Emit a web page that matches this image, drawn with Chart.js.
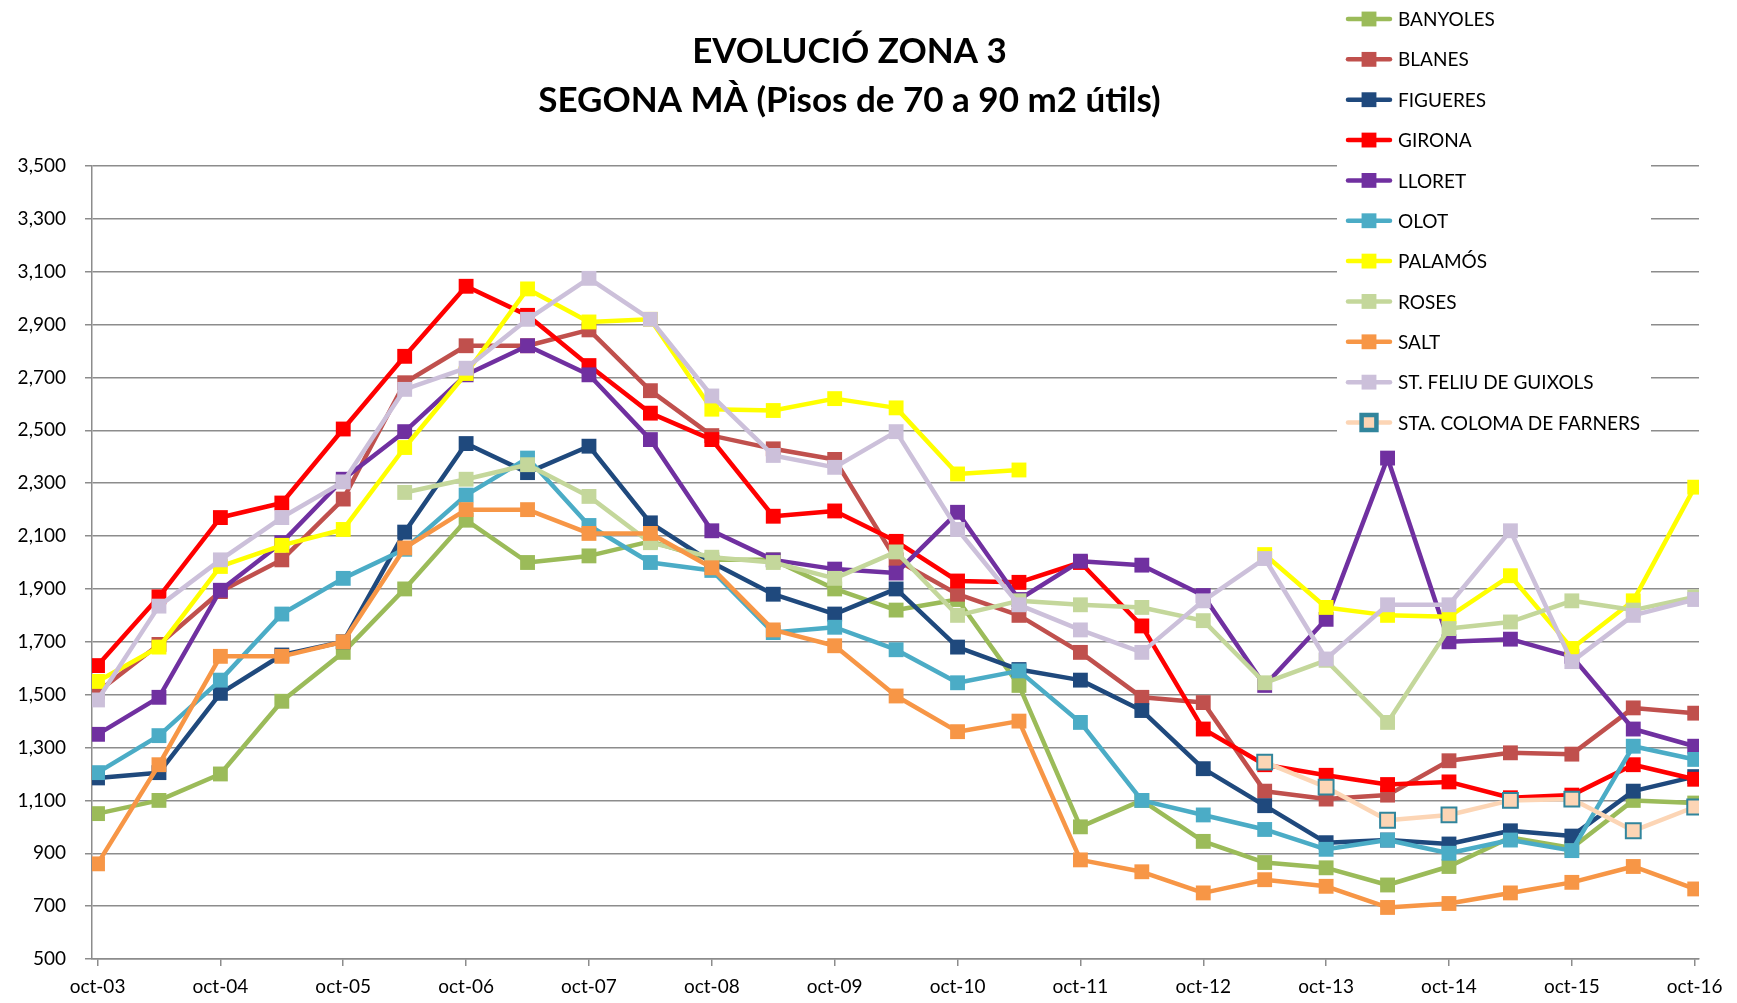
<!DOCTYPE html>
<html>
<head>
<meta charset="utf-8">
<title>Evolució zona 3</title>
<script src="https://cdn.jsdelivr.net/npm/chart.js@4.4.1/dist/chart.umd.min.js"></script>
<style>
  html, body { margin: 0; padding: 0; background: #fff; }
  #wrap { width: 1737px; height: 1003px; position: relative; }
</style>
</head>
<body>
<div id="wrap"><canvas id="chart"></canvas></div>
<script>
// half-year readings, oct-03 ... oct-16 (27 points)
const xTickLabels = ['oct-03', 'oct-04', 'oct-05', 'oct-06', 'oct-07', 'oct-08', 'oct-09',
  'oct-10', 'oct-11', 'oct-12', 'oct-13', 'oct-14', 'oct-15', 'oct-16'];

const cities = ['BANYOLES', 'BLANES', 'FIGUERES', 'GIRONA', 'LLORET', 'OLOT', 'PALAMÓS',
  'ROSES', 'SALT', 'ST. FELIU DE GUIXOLS', 'STA. COLOMA DE FARNERS'];

const banyoles = [1050, 1100, 1200, 1475, 1660, 1900, 2160, 2000, 2025, 2080, 2010, 2010, 1900, 1820,
  1860, 1535, 1000, 1100, 945, 865, 845, 780, 850, 960, 920, 1100, 1090];
const blanes = [1510, 1690, 1890, 2010, 2240, 2680, 2820, 2820, 2880, 2650, 2480, 2430, 2390, 2010,
  1880, 1800, 1660, 1490, 1470, 1135, 1105, 1120, 1250, 1280, 1275, 1450, 1430];
const figueres = [1185, 1205, 1505, 1650, 1700, 2115, 2450, 2340, 2440, 2150, 2000, 1880, 1805, 1900,
  1680, 1595, 1555, 1440, 1220, 1080, 940, 950, 935, 985, 965, 1135, 1190];
const girona = [1610, 1870, 2170, 2225, 2505, 2780, 3045, 2935, 2745, 2565, 2465, 2175, 2195, 2080,
  1930, 1925, 2000, 1760, 1370, 1235, 1195, 1160, 1170, 1110, 1120, 1235, 1180];
const lloret = [1350, 1490, 1895, 2075, 2315, 2495, 2710, 2820, 2710, 2465, 2120, 2010, 1975, 1960,
  2190, 1860, 2005, 1990, 1875, 1535, 1785, 2395, 1700, 1710, 1645, 1370, 1305];
const olot = [1205, 1345, 1555, 1805, 1940, 2050, 2255, 2395, 2140, 2000, 1970, 1735, 1755, 1670,
  1545, 1590, 1395, 1100, 1045, 990, 915, 950, 900, 950, 910, 1305, 1255];
const palamos = [1550, 1680, 1985, 2065, 2125, 2435, 2715, 3035, 2910, 2920, 2580, 2575, 2620, 2585,
  2335, 2350, null, null, null, 2030, 1830, 1800, 1795, 1950, 1675, 1855, 2285];
const roses = [null, null, null, null, null, 2265, 2315, 2370, 2250, 2075, 2020, 2000, 1940, 2040,
  1800, 1855, 1840, 1830, 1780, 1545, 1630, 1395, 1750, 1775, 1855, 1820, 1870];
const salt = [860, 1235, 1645, 1645, 1700, 2055, 2200, 2200, 2110, 2110, 1980, 1745, 1685, 1495,
  1360, 1400, 875, 830, 750, 800, 775, 695, 710, 750, 790, 850, 765];
const stFeliu = [1480, 1835, 2010, 2170, 2305, 2655, 2735, 2920, 3075, 2920, 2630, 2405, 2360, 2495,
  2125, 1840, 1745, 1660, 1855, 2015, 1635, 1840, 1840, 2120, 1625, 1800, 1860];
const staColoma = [null, null, null, null, null, null, null, null, null, null, null, null, null, null,
  null, null, null, null, null, 1245, 1150, 1025, 1045, 1100, 1105, 985, 1075];

const seriesValues = [banyoles, blanes, figueres, girona, lloret, olot, palamos, roses, salt, stFeliu, staColoma];

const lineColors = ['#9BBB59', '#C0504D', '#1F497D', '#FF0000', '#7030A0', '#4BACC6', '#FFFF00',
  '#C4D79B', '#F79646', '#CCC0DA', '#FCD5B5'];
const markerBorders = lineColors.slice(0, 10).concat(['#31859C']);

const FONT = "Lato, 'Open Sans', sans-serif";
const GRID = '#8c8c8c';

// legend drawn over the top-right corner of the plot, like the original
const overlayLegend = {
  id: 'overlayLegend',
  afterDraw(chart) {
    const ctx = chart.ctx;
    ctx.save();
    ctx.fillStyle = '#fff';
    ctx.fillRect(1337, 0, 314, 440);
    chart.data.datasets.forEach((ds, i) => {
      const y = 19 + i * 40.35;
      ctx.strokeStyle = ds.borderColor;
      ctx.lineWidth = 4.5;
      ctx.lineCap = 'round';
      ctx.beginPath();
      ctx.moveTo(1348, y);
      ctx.lineTo(1390, y);
      ctx.stroke();
      ctx.fillStyle = ds.pointBackgroundColor;
      ctx.strokeStyle = ds.pointBorderColor;
      Chart.helpers.drawPoint(ctx, {
        pointStyle: 'rect', rotation: 0, radius: ds.pointRadius, borderWidth: ds.pointBorderWidth
      }, 1369, y);
      ctx.fillStyle = '#000';
      ctx.font = '19px ' + FONT;
      ctx.textAlign = 'left';
      ctx.textBaseline = 'middle';
      ctx.fillText(ds.label, 1398, y + 1);
    });
    ctx.restore();
  }
};

const datasets = cities.map((name, i) => ({
  label: name,
  data: seriesValues[i].map((v, k) => ({ x: k, y: v })),
  borderColor: lineColors[i],
  backgroundColor: lineColors[i],
  pointBackgroundColor: lineColors[i],
  pointBorderColor: markerBorders[i],
  pointBorderWidth: i === 10 ? 2 : 0,
  pointStyle: 'rect',
  pointRadius: 10.5,
  borderWidth: 4.5,
  borderJoinStyle: 'round',
  tension: 0,
  spanGaps: false,
  order: cities.length - i
}));

new Chart(document.getElementById('chart'), {
  type: 'line',
  data: { datasets },
  options: {
    responsive: true,
    maintainAspectRatio: false,
    animation: false,
    locale: 'en-US',
    layout: { padding: { left: 0, right: 38, top: 0, bottom: 0 } },
    plugins: {
      legend: { display: false },
      tooltip: { enabled: false },
      title: {
        display: true,
        text: ['EVOLUCIÓ ZONA 3', 'SEGONA MÀ (Pisos de 70 a 90 m2 útils)'],
        color: '#000',
        font: { family: FONT, size: 35, weight: 'bold', lineHeight: 1.4 },
        padding: { top: 27.5, bottom: 40.5 }
      }
    },
    scales: {
      x: {
        type: 'linear',
        min: -0.09,
        max: 26.07,
        afterFit: s => { s.height = 44; },
        border: { display: true, color: GRID, width: 1.5 },
        grid: { drawOnChartArea: false, drawTicks: true, tickLength: 7, color: GRID, lineWidth: 1.5 },
        ticks: {
          stepSize: 2,
          includeBounds: false,
          autoSkip: false,
          maxRotation: 0,
          padding: 9,
          color: '#000',
          font: { family: FONT, size: 19 },
          callback: v => xTickLabels[v / 2]
        }
      },
      y: {
        min: 500,
        max: 3500,
        afterFit: s => { s.width = 92; },
        border: { display: true, color: GRID, width: 1.5 },
        grid: { color: GRID, lineWidth: 1.5, tickLength: 7 },
        ticks: {
          stepSize: 200,
          padding: 19,
          color: '#000',
          font: { family: FONT, size: 19 }
        }
      }
    }
  },
  plugins: [overlayLegend]
});
</script>
</body>
</html>
